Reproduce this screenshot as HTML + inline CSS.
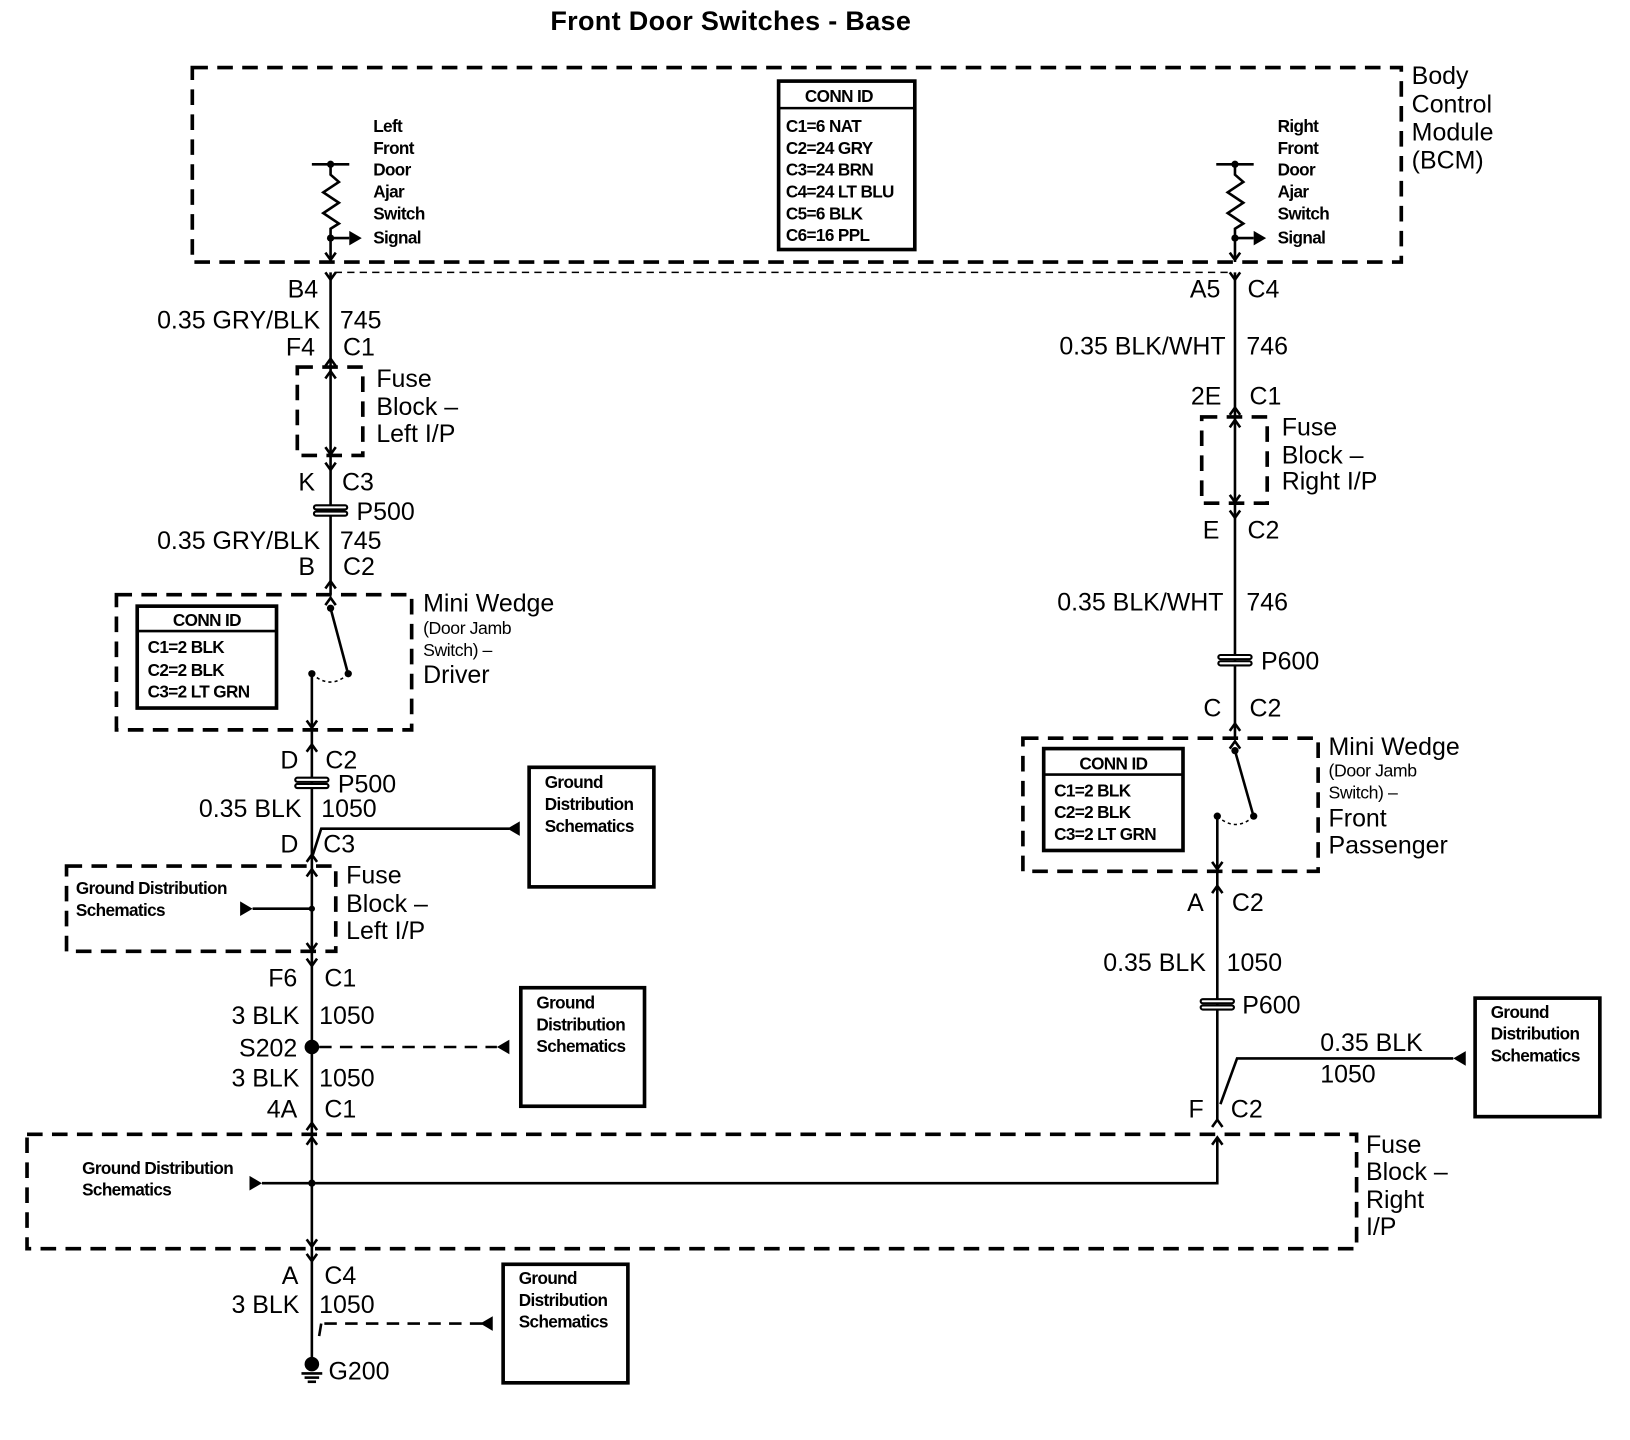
<!DOCTYPE html>
<html><head><meta charset="utf-8"><style>
html,body{margin:0;padding:0;background:#fff;}
svg{display:block;}
text{font-family:"Liberation Sans",Arial,sans-serif;fill:#000;}
.L{font-size:24px;letter-spacing:0px;}
.S{font-size:16.5px;letter-spacing:-0.6px;font-weight:bold;}
.n{font-size:17px;letter-spacing:-0.4px;}
.e{text-anchor:end;}
.w{stroke:#000;stroke-width:2.5;fill:none;}
.d{stroke:#000;stroke-width:3.5;fill:none;stroke-dasharray:15 9;}
.b{stroke:#000;stroke-width:3.5;fill:none;}
</style></head><body>
<svg width="1630" height="1440" viewBox="0 0 1568 1385" preserveAspectRatio="none" xmlns="http://www.w3.org/2000/svg">
<defs>
<g id="pc"><rect x="-16" y="-5" width="32" height="4" rx="2" fill="#fff" stroke="#000" stroke-width="2"/><rect x="-16" y="1" width="32" height="4" rx="2" fill="#fff" stroke="#000" stroke-width="2"/></g>
<g id="vd"><path d="M-5,-7 L0,0 L5,-7" class="w"/></g>
<g id="vu"><path d="M-5,7 L0,0 L5,7" class="w"/></g>
</defs>
<text x="703" y="29" text-anchor="middle" style="font-size:26px;font-weight:bold;letter-spacing:0.3px">Front Door Switches - Base</text>

<!-- BCM -->
<rect x="185" y="65" width="1163" height="187" class="d"/>
<text class="L" x="1358" y="81">Body</text><text class="L" x="1358" y="108">Control</text><text class="L" x="1358" y="135">Module</text><text class="L" x="1358" y="162">(BCM)</text>
<rect x="749" y="78" width="131" height="162" class="b"/>
<line x1="749" y1="104" x2="880" y2="104" class="w"/>
<text class="S" x="807" y="98" text-anchor="middle">CONN ID</text>
<text class="S" x="756" y="127">C1=6 NAT</text><text class="S" x="756" y="148">C2=24 GRY</text><text class="S" x="756" y="169">C3=24 BRN</text><text class="S" x="756" y="190">C4=24 LT BLU</text><text class="S" x="756" y="211">C5=6 BLK</text><text class="S" x="756" y="232">C6=16 PPL</text>

<g>
<line x1="300" y1="158" x2="336" y2="158" class="w"/><circle cx="318" cy="158" r="3.5"/>
<path d="M318,158 L318,168 L326,175 L311,185 L326,195 L311,205 L326,215 L318,220 L318,252" class="w"/>
<circle cx="318" cy="229" r="3.5"/><line x1="318" y1="229" x2="336" y2="229" class="w"/><path d="M348,229 L336,222 L336,236Z"/>
<path d="M313,243 L318,250 L323,243" class="w"/>
<text class="S" x="359" y="127">Left</text><text class="S" x="359" y="148">Front</text><text class="S" x="359" y="169">Door</text><text class="S" x="359" y="190">Ajar</text><text class="S" x="359" y="211">Switch</text><text class="S" x="359" y="234">Signal</text>
</g>
<g>
<line x1="1170" y1="158" x2="1206" y2="158" class="w"/><circle cx="1188" cy="158" r="3.5"/>
<path d="M1188,158 L1188,168 L1196,175 L1181,185 L1196,195 L1181,205 L1196,215 L1188,220 L1188,252" class="w"/>
<circle cx="1188" cy="229" r="3.5"/><line x1="1188" y1="229" x2="1206" y2="229" class="w"/><path d="M1218,229 L1206,222 L1206,236Z"/>
<path d="M1183,243 L1188,250 L1193,243" class="w"/>
<text class="S" x="1229" y="127">Right</text><text class="S" x="1229" y="148">Front</text><text class="S" x="1229" y="169">Door</text><text class="S" x="1229" y="190">Ajar</text><text class="S" x="1229" y="211">Switch</text><text class="S" x="1229" y="234">Signal</text>
</g>
<line x1="322" y1="262" x2="1184" y2="262" stroke="#000" stroke-width="1.5" stroke-dasharray="7 5"/>

<!-- LEFT chain -->
<line x1="318" y1="262" x2="318" y2="572" class="w"/>
<use href="#vd" x="318" y="269"/>
<text class="L e" x="306" y="286">B4</text>
<text class="L e" x="308" y="316">0.35 GRY/BLK</text><text class="L" x="327" y="316">745</text>
<text class="L e" x="303" y="342">F4</text><text class="L" x="330" y="342">C1</text>
<use href="#vu" x="318" y="345"/>
<rect x="286" y="353" width="63" height="85" class="d"/>
<use href="#vu" x="318" y="357"/><use href="#vd" x="318" y="437"/>
<text class="L" x="362" y="372">Fuse</text><text class="L" x="362" y="399">Block –</text><text class="L" x="362" y="425">Left I/P</text>
<use href="#vd" x="318" y="452"/>
<text class="L e" x="303" y="472">K</text><text class="L" x="329" y="472">C3</text>
<use href="#pc" x="318" y="491"/><text class="L" x="343" y="500">P500</text>
<text class="L e" x="308" y="528">0.35 GRY/BLK</text><text class="L" x="327" y="528">745</text>
<text class="L e" x="303" y="553">B</text><text class="L" x="330" y="553">C2</text>
<use href="#vu" x="318" y="559"/>
<rect x="112" y="572" width="284" height="130" class="d"/>
<use href="#vu" x="318" y="575"/>
<rect x="132" y="583" width="134" height="98" class="b"/><line x1="132" y1="607" x2="266" y2="607" class="w"/>
<text class="S" x="199" y="602" text-anchor="middle">CONN ID</text>
<text class="S" x="142" y="628">C1=2 BLK</text><text class="S" x="142" y="650">C2=2 BLK</text><text class="S" x="142" y="671">C3=2 LT GRN</text>
<circle cx="318" cy="585" r="3.5"/><line x1="318" y1="585" x2="334" y2="645" class="w"/><circle cx="335" cy="648" r="3.5"/>
<path d="M300,648 Q318,664 335,648" stroke="#000" stroke-width="1.5" fill="none" stroke-dasharray="3 3"/>
<circle cx="300" cy="648" r="3.5"/><line x1="300" y1="648" x2="300" y2="1310" class="w"/>
<use href="#vd" x="300" y="700"/>
<text class="L" x="407" y="588">Mini Wedge</text><text class="n" x="407" y="610">(Door Jamb</text><text class="n" x="407" y="631">Switch) –</text><text class="L" x="407" y="657">Driver</text>
<use href="#vu" x="300" y="716"/>
<text class="L e" x="287" y="739">D</text><text class="L" x="313" y="739">C2</text>
<use href="#pc" x="300" y="753"/><text class="L" x="325" y="762">P500</text>
<text class="L e" x="290" y="786">0.35 BLK</text><text class="L" x="309" y="786">1050</text>
<path d="M301,822 L309,797 L490,797" class="w"/>
<path d="M488,797 L500,790 L500,804Z"/>
<text class="L e" x="287" y="820">D</text><text class="L" x="311" y="820">C3</text>
<use href="#vu" x="300" y="822"/>
<rect x="509" y="738" width="120" height="115" class="b"/>
<text class="S" x="524" y="758">Ground</text><text class="S" x="524" y="779">Distribution</text><text class="S" x="524" y="800">Schematics</text>
<rect x="64" y="833" width="259" height="82" class="d"/>
<use href="#vu" x="300" y="836"/><use href="#vd" x="300" y="914"/>
<text class="S" x="73" y="860">Ground Distribution</text><text class="S" x="73" y="881">Schematics</text>
<line x1="243" y1="874" x2="300" y2="874" class="w"/><path d="M243,874 L231,867 L231,881Z"/><circle cx="300" cy="874" r="3"/>
<text class="L" x="333" y="850">Fuse</text><text class="L" x="333" y="877">Block –</text><text class="L" x="333" y="903">Left I/P</text>
<use href="#vd" x="300" y="929"/>
<text class="L e" x="286" y="949">F6</text><text class="L" x="312" y="949">C1</text>
<text class="L e" x="288" y="985">3 BLK</text><text class="L" x="307" y="985">1050</text>
<circle cx="300" cy="1007" r="7"/><text class="L e" x="286" y="1016">S202</text>
<line x1="307" y1="1007" x2="478" y2="1007" stroke="#000" stroke-width="2.5" stroke-dasharray="12 8"/><path d="M478,1007 L490,1000 L490,1014Z"/>
<rect x="501" y="950" width="119" height="114" class="b"/>
<text class="S" x="516" y="970">Ground</text><text class="S" x="516" y="991">Distribution</text><text class="S" x="516" y="1012">Schematics</text>
<text class="L e" x="288" y="1045">3 BLK</text><text class="L" x="307" y="1045">1050</text>
<text class="L e" x="286" y="1075">4A</text><text class="L" x="312" y="1075">C1</text>
<use href="#vu" x="300" y="1080"/>

<rect x="26" y="1091" width="1279" height="110" class="d"/>
<use href="#vu" x="300" y="1094"/><use href="#vd" x="300" y="1199"/>
<text class="S" x="79" y="1129">Ground Distribution</text><text class="S" x="79" y="1150">Schematics</text>
<path d="M252,1138 L240,1131 L240,1145Z"/><polyline points="252,1138 1171,1138 1171,1094" class="w"/><circle cx="300" cy="1138" r="3.5"/>
<use href="#vu" x="1171" y="1094"/>
<text class="L" x="1314" y="1109">Fuse</text><text class="L" x="1314" y="1135">Block –</text><text class="L" x="1314" y="1162">Right</text><text class="L" x="1314" y="1188">I/P</text>
<use href="#vd" x="300" y="1213"/>
<text class="L e" x="287" y="1235">A</text><text class="L" x="312" y="1235">C4</text>
<text class="L e" x="288" y="1263">3 BLK</text><text class="L" x="307" y="1263">1050</text>
<path d="M307,1285 L309,1273" class="w"/>
<line x1="312" y1="1273" x2="464" y2="1273" stroke="#000" stroke-width="2.5" stroke-dasharray="12 8"/><path d="M462,1273 L474,1266 L474,1280Z"/>
<rect x="484" y="1216" width="120" height="114" class="b"/>
<text class="S" x="499" y="1235">Ground</text><text class="S" x="499" y="1256">Distribution</text><text class="S" x="499" y="1277">Schematics</text>
<circle cx="300" cy="1312" r="7"/><line x1="290" y1="1321" x2="310" y2="1321" class="w"/><line x1="293" y1="1325" x2="307" y2="1325" class="w"/><line x1="296" y1="1329" x2="304" y2="1329" class="w"/>
<text class="L" x="316" y="1327">G200</text>

<!-- RIGHT chain -->
<line x1="1188" y1="262" x2="1188" y2="710" class="w"/>
<use href="#vd" x="1188" y="269"/>
<text class="L e" x="1174" y="286">A5</text><text class="L" x="1200" y="286">C4</text>
<text class="L e" x="1179" y="341">0.35 BLK/WHT</text><text class="L" x="1199" y="341">746</text>
<text class="L e" x="1175" y="389">2E</text><text class="L" x="1202" y="389">C1</text>
<use href="#vu" x="1188" y="392"/>
<rect x="1156" y="401" width="63" height="83" class="d"/>
<use href="#vu" x="1188" y="404"/><use href="#vd" x="1188" y="483"/>
<text class="L" x="1233" y="419">Fuse</text><text class="L" x="1233" y="446">Block –</text><text class="L" x="1233" y="471">Right I/P</text>
<use href="#vd" x="1188" y="498"/>
<text class="L e" x="1173" y="518">E</text><text class="L" x="1200" y="518">C2</text>
<text class="L e" x="1177" y="587">0.35 BLK/WHT</text><text class="L" x="1199" y="587">746</text>
<use href="#pc" x="1188" y="635"/><text class="L" x="1213" y="644">P600</text>
<text class="L e" x="1175" y="689">C</text><text class="L" x="1202" y="689">C2</text>
<use href="#vu" x="1188" y="696"/>
<rect x="984" y="710" width="284" height="128" class="d"/>
<use href="#vu" x="1188" y="713"/>
<rect x="1004" y="720" width="134" height="98" class="b"/><line x1="1004" y1="745" x2="1138" y2="745" class="w"/>
<text class="S" x="1071" y="740" text-anchor="middle">CONN ID</text>
<text class="S" x="1014" y="766">C1=2 BLK</text><text class="S" x="1014" y="787">C2=2 BLK</text><text class="S" x="1014" y="808">C3=2 LT GRN</text>
<circle cx="1188" cy="722" r="3.5"/><line x1="1188" y1="722" x2="1205" y2="782" class="w"/><circle cx="1206" cy="785" r="3.5"/>
<path d="M1171,785 Q1189,801 1206,785" stroke="#000" stroke-width="1.5" fill="none" stroke-dasharray="3 3"/>
<circle cx="1171" cy="785" r="3.5"/><line x1="1171" y1="785" x2="1171" y2="1078" class="w"/>
<use href="#vd" x="1171" y="836"/>
<text class="L" x="1278" y="726">Mini Wedge</text><text class="n" x="1278" y="747">(Door Jamb</text><text class="n" x="1278" y="768">Switch) –</text><text class="L" x="1278" y="795">Front</text><text class="L" x="1278" y="821">Passenger</text>
<use href="#vu" x="1171" y="852"/>
<text class="L e" x="1158" y="876">A</text><text class="L" x="1185" y="876">C2</text>
<text class="L e" x="1160" y="934">0.35 BLK</text><text class="L" x="1180" y="934">1050</text>
<use href="#pc" x="1171" y="966"/><text class="L" x="1195" y="975">P600</text>
<path d="M1174,1062 L1190,1018 L1398,1018" class="w"/><path d="M1398,1018 L1410,1011 L1410,1025Z"/>
<text class="L" x="1270" y="1011">0.35 BLK</text><text class="L" x="1270" y="1041">1050</text>
<rect x="1419" y="960" width="120" height="114" class="b"/>
<text class="S" x="1434" y="979">Ground</text><text class="S" x="1434" y="1000">Distribution</text><text class="S" x="1434" y="1021">Schematics</text>
<text class="L e" x="1158" y="1075">F</text><text class="L" x="1184" y="1075">C2</text>
<use href="#vu" x="1171" y="1077"/>
</svg>
</body></html>
